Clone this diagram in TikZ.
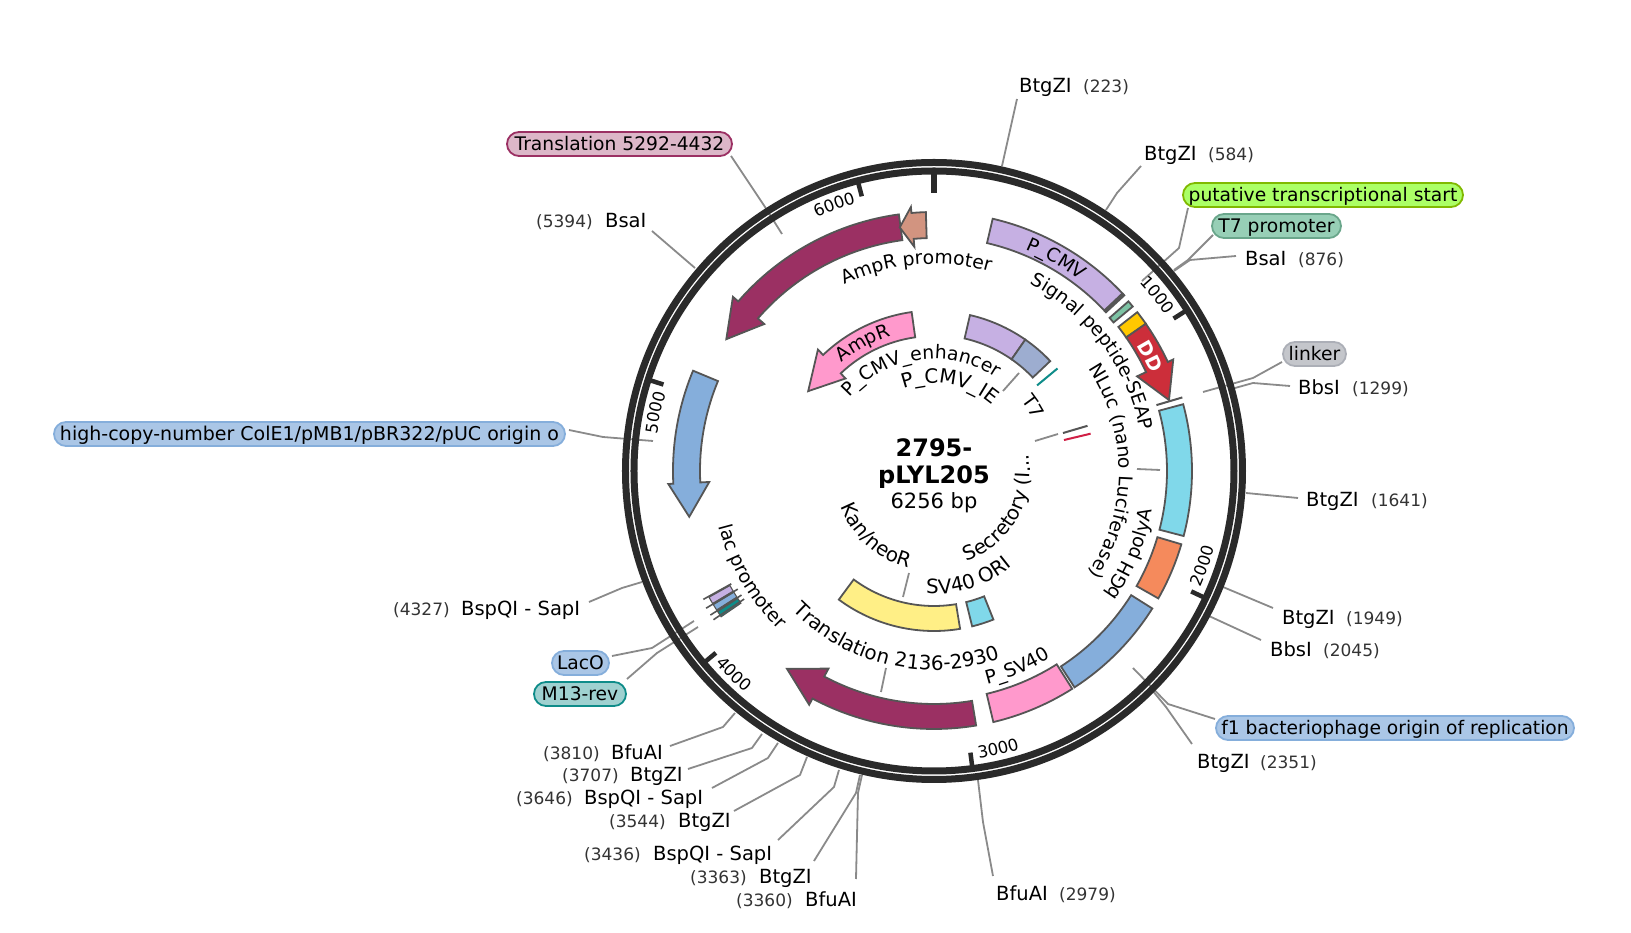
\documentclass[tikz,border=0pt]{standalone}
\usepackage{fontspec}
\setmainfont{DejaVu Sans}
\usetikzlibrary{decorations.text,shapes.misc}
\definecolor{ringc}{HTML}{2A2A2A}
\definecolor{leadc}{HTML}{8A8A8A}
\definecolor{featc}{HTML}{555555}
\definecolor{numc}{HTML}{333333}
\definecolor{lav}{HTML}{C6B0E3}
\definecolor{mint}{HTML}{7DC3A4}
\definecolor{gold}{HTML}{FFC800}
\definecolor{ddred}{HTML}{CC2E3A}
\definecolor{cyanf}{HTML}{80D8EA}
\definecolor{orangef}{HTML}{F58A5C}
\definecolor{bluef}{HTML}{85AEDB}
\definecolor{pinkf}{HTML}{FF99CC}
\definecolor{plum}{HTML}{9B3063}
\definecolor{salmon}{HTML}{D29480}
\definecolor{yellowf}{HTML}{FFEF86}
\definecolor{slate}{HTML}{9DADD0}
\definecolor{teal2}{HTML}{0E8C89}
\definecolor{crim}{HTML}{D01F45}
\newcommand\fa{\fontsize{18.8}{19}\selectfont}
\newcommand\fe{\fontsize{19.8}{20}\selectfont}
\newcommand\fb{\fontsize{16.5}{17}\selectfont}
\newcommand\fd{\fontsize{19}{20}\selectfont\bfseries\color{white}}
% feature helpers: angles clockwise from top
\newcommand\ArcF[5]{\draw[feat,fill=#1] ({90-#2}:#5) arc[start angle={90-#2},end angle={90-#3},radius=#5] -- ({90-#3}:#4) arc[start angle={90-#3},end angle={90-#2},radius=#4] -- cycle;}
% color, a1, base, tip, r1, r2, rh1, rh2, rtip
\newcommand\ArrF[9]{\draw[feat,fill=#1] ({90-#2}:#6) arc[start angle={90-#2},end angle={90-#3},radius=#6] -- ({90-#3}:#8) -- ({90-#4}:#9) -- ({90-#3}:#7) -- ({90-#3}:#5) arc[start angle={90-#3},end angle={90-#2},radius=#5] -- cycle;}
\newcommand\Radial[5]{\draw[line width=#2,color=#1] ({90-#3}:#4) -- ({90-#3}:#5);}
\newcommand\CW[4][\fa]{\path[decorate,decoration={text along path,text align=center,text={|#1|#4}}] ({90-#2+85}:#3) arc[start angle={90-#2+85},end angle={90-#2-85},radius=#3];}
\newcommand\CCW[4][\fa]{\path[decorate,decoration={text along path,text align=center,text={|#1|#4}}] ({90-#2-85}:#3) arc[start angle={90-#2-85},end angle={90-#2+85},radius=#3];}
\newcommand\TickCW[2]{\path[decorate,decoration={text along path,text align=right,text={|\fb|#2}}] ({90-#1+40}:279) arc[start angle={90-#1+40},end angle={90-#1+1.5},radius=279];}
\newcommand\TickCCW[2]{\path[decorate,decoration={text along path,text align=left,text={|\fb|#2}}] ({90-#1+1.5}:291) arc[start angle={90-#1+1.5},end angle={90-#1+40},radius=291];}
\newcommand\Site[6]{\node[sitelab,anchor=base west] (#1) at (#2,#3+7.5) {#4};\node[numlab,anchor=base west] (#1n) at (#5,#3+7.5) {#6};}
\newcommand\Ldr[4]{\coordinate (#1s) at #2;\coordinate (#1e) at #4;\draw[leader] (#1s) #3 (#1e);}
\newcommand\Pill[7]{\node[pill,minimum width={#3-#2},fill=#5,draw=#6] (#1) at ({(#2+#3)/2},#4) {#7};}
\tikzset{
 feat/.style={draw=featc,line width=1.8pt,line join=miter},
 thinfeat/.style={line width=1.1pt},
 leader/.style={draw=leadc,line width=1.8pt,line join=round},
 sitelab/.style={font=\fontsize{19.5}{21}\selectfont,inner sep=0pt,text=black},
 numlab/.style={font=\fontsize{17}{19}\selectfont,inner sep=0pt,text=numc},
 pill/.style={rounded rectangle,line width=1.8pt,inner sep=0pt,minimum height=24pt,text height=15pt,text depth=2pt,font=\fontsize{18.7}{21}\selectfont},
 tick/.style={draw=ringc,line width=4.5pt},
}
\begin{document}
\begin{tikzpicture}[x=1pt,y=1pt]
\useasboundingbox (-934,471) rectangle (697,-462);
\begin{scope}[shift={(-934,471)},y=-1pt]
% restriction site labels
\Site{sA}{1019}{85}{BtgZI}{1083}{(223)}
\Site{sB}{1144}{153}{BtgZI}{1208}{(584)}
\Site{sC}{1245}{258}{BsaI}{1298}{(876)}
\Site{sD}{1298}{387}{BbsI}{1352}{(1299)}
\Site{sE}{1306}{499}{BtgZI}{1371}{(1641)}
\Site{sF}{1282}{617}{BtgZI}{1346}{(1949)}
\Site{sG}{1270}{649}{BbsI}{1323}{(2045)}
\Site{sH}{1197}{761}{BtgZI}{1260}{(2351)}
\Site{sI}{996}{893}{BfuAI}{1059}{(2979)}
\Site{sJ}{805}{899}{BfuAI}{736}{(3360)}
\Site{sK}{759}{876}{BtgZI}{690}{(3363)}
\Site{sL}{653}{853}{BspQI - SapI}{584}{(3436)}
\Site{sM}{678}{820}{BtgZI}{609}{(3544)}
\Site{sN}{584}{797}{BspQI - SapI}{516}{(3646)}
\Site{sO}{630}{774}{BtgZI}{562}{(3707)}
\Site{sP}{611}{752}{BfuAI}{543}{(3810)}
\Site{sQ}{461}{608}{BspQI - SapI}{393}{(4327)}
\Site{sR}{605}{220}{BsaI}{536}{(5394)}
% feature pills
\Pill{pTr}{507}{732}{144}{plum!35}{plum}{Translation 5292-4432}
\Pill{pHi}{54}{565}{434}{bluef!70}{bluef}{\fontsize{19}{21}\selectfont high-copy-number ColE1/pMB1/pBR322/pUC origin o}
\Pill{pPu}{1183}{1463}{195}{green!55!yellow!60}{green!45!black!50!yellow}{putative transcriptional start}
\Pill{pT7}{1212}{1341}{226}{mint!80}{mint!85!black}{T7 promoter}
\Pill{pLi}{1283}{1346}{354}{slate!30!gray!50}{slate!30!gray!70}{linker}
\Pill{pF1}{1216}{1574}{728}{bluef!70}{bluef}{f1 bacteriophage origin of replication}
\Pill{pLa}{552}{609}{663}{bluef!70}{bluef}{LacO}
\Pill{pM1}{534}{626}{694}{teal2!40}{teal2}{M13-rev}
% connectors
\Ldr{lA}{(1017,99)}{--}{(1002,166)}
\Ldr{lB}{(1141,166)}{-- (1117,193) --}{(1106,210)}
\Ldr{lC}{(1188,208)}{-- (1179,248) --}{(1142,281)}
\Ldr{lD}{(1213,235)}{-- (1188,260) --}{(1174,270)}
\Ldr{lE}{(1236,256)}{-- (1190,260) --}{(1174,271)}
\Ldr{lF}{(1282,362)}{-- (1253,378) --}{(1203,392)}
\Ldr{lG}{(1290,386)}{-- (1253,383) --}{(1235,388)}
\Ldr{lH}{(1298,498)}{--}{(1246,493)}
\Ldr{lI}{(1273,608)}{--}{(1223,587)}
\Ldr{lJ}{(1261,640)}{--}{(1209,616)}
\Ldr{lK}{(1215,719)}{-- (1168,704) --}{(1133,668)}
\Ldr{lL}{(1192,744)}{-- (1166,707) --}{(1152,690)}
\Ldr{lM}{(993,876)}{-- (983,822) --}{(978,780)}
\Ldr{lN}{(856,879)}{-- (858,793) --}{(862,775)}
\Ldr{lO}{(814,861)}{-- (856,793) --}{(860,775)}
\Ldr{lP}{(778,840)}{-- (834,787) --}{(839,770)}
\Ldr{lQ}{(734,811)}{-- (800,775) --}{(807,757)}
\Ldr{lR}{(712,788)}{-- (768,758) --}{(778,743)}
\Ldr{lS}{(688,769)}{-- (752,748) --}{(762,734)}
\Ldr{lT}{(670,746)}{-- (723,727) --}{(735,713)}
\Ldr{lU}{(589,602)}{-- (622,588) --}{(642,582)}
\Ldr{lV}{(612,656)}{-- (652,648) --}{(694,621)}
\Ldr{lW}{(627,679)}{-- (657,653) --}{(698,627)}
\Ldr{lX}{(731,156)}{-- (765,207) --}{(782,234)}
\Ldr{lY}{(652,231)}{--}{(695,268)}
\Ldr{lZ}{(569,430)}{-- (603,437) --}{(653,441)}
\Ldr{iA}{(1003,391)}{--}{(1019,373)}
\Ldr{iB}{(1035,441)}{--}{(1058,434)}
\Ldr{iC}{(903,597)}{--}{(909,573)}
\Ldr{iD}{(1137,469)}{--}{(1160,470)}
\Ldr{iE}{(886,668)}{--}{(881,692)}
\end{scope}
% backbone rings
\draw[ringc,line width=7pt] (0,0) circle[radius=308.5];
\draw[ringc,line width=7pt] (0,0) circle[radius=300];
\draw[tick,line width=6pt] (90:301) -- (90:278);
\foreach \a in {57.54,115.09,172.63,230.18,287.72,345.27}{\draw[tick] ({90-\a}:298) -- ({90-\a}:284);}
\TickCW{57.54}{1000}
\TickCCW{115.09}{2000}
\TickCCW{172.63}{3000}
\TickCCW{230.18}{4000}
\TickCW{287.72}{5000}
\TickCW{345.27}{6000}
% outer track
\ArcF{lav}{13.1}{46.7}{234}{259}
\ArcF{lav}{46.9}{47.3}{234}{259}
\ArcF{mint}{48.9}{50.4}{233}{258}
\ArcF{gold}{52}{55.2}{234}{258}
\ArrF{ddred}{55.2}{65}{73.2}{234}{258}{224}{264}{245.5}
\Radial{featc}{2pt}{73.5}{232}{259}
\ArcF{cyanf}{75}{104.6}{233}{258}
\ArcF{orangef}{106.5}{119.6}{233}{258}
\ArcF{bluef}{122.2}{147}{233}{258}
\ArcF{pinkf}{147.6}{166.7}{229}{258}
\ArrF{plum}{170.6}{208.1}{216.6}{233}{258}{224}{265}{246.5}
\ArrF{bluef}{292.6}{267.2}{259.4}{234}{261}{225}{266}{249}
\ArrF{plum}{352.2}{310.9}{302.4}{233}{259}{224.5}{266}{246}
\ArrF{salmon}{358.2}{355}{352}{233}{259}{225}{265}{246}
% lac cluster
\begin{scope}[feat/.append style={thinfeat}]
\ArcF{lav}{239.1}{240.7}{234}{258}
\ArcF{bluef}{237.4}{238.8}{234}{258}
\ArcF{teal2}{235.6}{237}{234}{258}
\end{scope}
\Radial{featc}{1.6pt}{240.9}{232}{264}
\Radial{featc}{1.6pt}{238.95}{229}{266}
\Radial{featc}{1.6pt}{237.2}{229}{266}
\Radial{featc}{1.6pt}{236}{229}{266}
% inner track
\ArcF{lav}{13}{34.8}{136}{160}
\ArcF{slate}{34.8}{46.6}{136}{160}
\Radial{teal2}{2pt}{50.3}{134}{160.5}
\Radial{featc}{2pt}{73.6}{134.5}{160}
\Radial{crim}{2pt}{76.6}{133.6}{161}
\ArrF{pinkf}{352}{316.3}{302.4}{135}{160.5}{128}{168}{149}
\ArcF{yellowf}{170.6}{216.5}{135}{160}
\ArcF{cyanf}{158.2}{166.2}{135}{160}
% curved labels
\CW{30}{240}{P{\_}CMV}
\CW[\fd]{62}{238}{DD}
\CW{-5}{207}{AmpR promoter}
\CW{53}{210}{Signal peptide-SEAP}
\CW{90}{185}{NLuc (nano Luciferase)}
\CCW{113}{222}{bGH polyA}
\CCW{157}{220}{P{\_}SV40}
\CCW[\fe]{193}{199}{Translation 2136-2930}
\CCW{240}{222}{lac promoter}
\CCW[\fe]{120}{96}{Secretory (I...}
\CCW[\fe]{162}{123}{SV40 ORI}
\CCW[\fe]{222}{100}{Kan/neoR}
\CW{-29}{142}{AmpR}
\CW{-7.6}{112}{P{\_}CMV{\_}enhancer}
\CW[\fe]{10.5}{88}{P{\_}CMV{\_}IE}
\CW{57}{112}{T7}
% centre
\node[font=\fontsize{24}{26}\selectfont\bfseries] (nA) at (0,23) {2795-};
\node[font=\fontsize{24}{26}\selectfont\bfseries] (nB) at (0,-6) {pLYL205};
\node[font=\fontsize{21}{23}\selectfont] (nC) at (0,-32) {6256 bp};
\end{tikzpicture}
\end{document}
